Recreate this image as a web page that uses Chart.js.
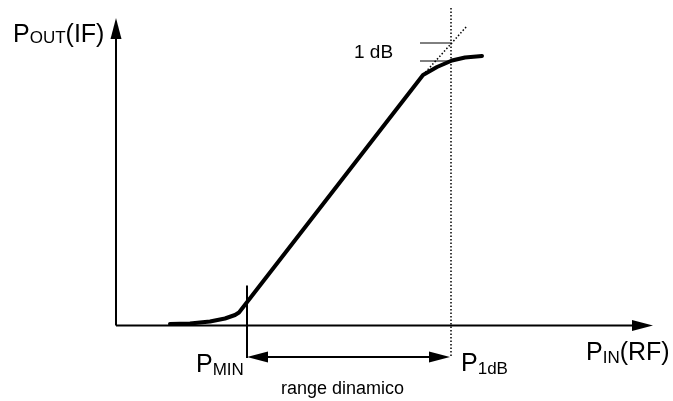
<!DOCTYPE html>
<html>
<head>
<meta charset="utf-8">
<script src="https://cdn.jsdelivr.net/npm/chart.js@4/dist/chart.umd.min.js"></script>
<style>
  html, body { margin: 0; padding: 0; background: #fff; }
  #wrap { width: 673px; height: 401px; position: relative; }
</style>
</head>
<body>
<div id="wrap"><canvas id="myChart"></canvas></div>
<script>
// transfer curve P_OUT(IF) vs P_IN(RF), arbitrary units
const pIn = [5.4, 7.4, 9.4, 10.9, 11.9, 12.3, 30.7, 32.1, 33.6, 34.9, 36.6];
const pOut = [0.15, 0.2, 0.4, 0.7, 1.05, 1.3, 25.05, 25.85, 26.5, 26.8, 26.95];

// linear extrapolation past the compression point
const extraIn = [30.7, 35.1];
const extraOut = [25.05, 29.95];

// markers
const pMin = 13.1;
const p1dB = 33.5;
const level1dB = [28.25, 26.45];

// axis extents
const xAxisEnd = 53.7;
const yAxisEnd = 30.75;

const labels = [
  { main: 'P', sub: 'OUT', tail: '(IF)', x: -10.3, y: 28.35, subDrop: 1 },
  { main: 'P', sub: 'IN', tail: '(RF)', x: 47.0, y: -3.45, subDrop: 3 },
  { main: 'P', sub: 'MIN', tail: '', x: 8.0, y: -4.65, subDrop: 3 },
  { main: 'P', sub: '1dB', tail: '', x: 34.5, y: -4.55, subDrop: 3 },
];
const notes = [
  { text: '1 dB', x: 23.8, y: 26.75, align: 'left', size: 19 },
  { text: 'range dinamico', x: 22.65, y: -6.85, align: 'center', size: 18 },
];

const arrowY = -3.15;

const line = (xs, ys, extra) => Object.assign({
  data: xs.map((x, i) => ({ x, y: ys[i] })),
  borderColor: '#000',
  borderWidth: 2,
  pointRadius: 0,
  showLine: true,
  tension: 0,
  fill: false,
}, extra || {});

const FONT = "'Liberation Sans', Arial, sans-serif";

const annotations = {
  id: 'annotations',
  afterDatasetsDraw(chart) {
    const ctx = chart.ctx;
    const sx = chart.scales.x;
    const sy = chart.scales.y;
    const px = v => sx.getPixelForValue(v);
    const py = v => sy.getPixelForValue(v);

    // arrow heads: tip position + direction
    const heads = [
      { x: 0, y: yAxisEnd, dir: 'up' },
      { x: xAxisEnd, y: 0, dir: 'right' },
      { x: pMin, y: arrowY, dir: 'left' },
      { x: p1dB - 0.1, y: arrowY, dir: 'right' },
    ];
    ctx.save();
    ctx.fillStyle = '#000';
    heads.forEach(h => {
      const tx = px(h.x), ty = py(h.y);
      const len = 21, hw = 5.5;
      ctx.beginPath();
      ctx.moveTo(tx, ty);
      if (h.dir === 'up') { ctx.lineTo(tx - hw, ty + len); ctx.lineTo(tx + hw, ty + len); }
      if (h.dir === 'right') { ctx.lineTo(tx - len, ty - hw); ctx.lineTo(tx - len, ty + hw); }
      if (h.dir === 'left') { ctx.lineTo(tx + len, ty - hw); ctx.lineTo(tx + len, ty + hw); }
      ctx.closePath();
      ctx.fill();
    });

    ctx.textBaseline = 'alphabetic';
    labels.forEach(l => {
      let x = px(l.x);
      const y = py(l.y);
      ctx.textAlign = 'left';
      ctx.font = '25px ' + FONT;
      ctx.fillText(l.main, x, y);
      x += ctx.measureText(l.main).width;
      ctx.font = '17px ' + FONT;
      ctx.fillText(l.sub, x, y + l.subDrop);
      x += ctx.measureText(l.sub).width;
      if (l.tail) {
        ctx.font = '25px ' + FONT;
        ctx.fillText(l.tail, x, y);
      }
    });
    notes.forEach(n => {
      ctx.font = n.size + 'px ' + FONT;
      ctx.textAlign = n.align;
      ctx.fillText(n.text, px(n.x), py(n.y));
    });
    ctx.restore();
  }
};

const ctx = document.getElementById('myChart').getContext('2d');
const chart = new Chart(ctx, {
  type: 'scatter',
  data: {
    datasets: [
      line([0, xAxisEnd - 1], [0, 0]),
      line([0, 0], [0, yAxisEnd - 1]),
      line(extraIn, extraOut, { borderWidth: 1.5, borderDash: [1.5, 2] }),
      line([p1dB, p1dB], [31.75, -3.25], { borderWidth: 1.5, borderDash: [1.5, 2] }),
      line([pMin, pMin], [4.0, -3.25]),
      line([pMin + 1, p1dB - 1], [arrowY, arrowY]),
      line([30.4, p1dB], [level1dB[0], level1dB[0]], { borderWidth: 1 }),
      line([30.4, p1dB], [level1dB[1], level1dB[1]], { borderWidth: 1 }),
      line(pIn, pOut, { borderWidth: 4, borderJoinStyle: 'round', borderCapStyle: 'round' }),
    ],
  },
  options: {
    responsive: true,
    maintainAspectRatio: false,
    animation: false,
    layout: { padding: 0 },
    plugins: { legend: { display: false }, tooltip: { enabled: false } },
    scales: {
      x: { type: 'linear', min: -11.6, max: 55.7, display: false },
      y: { type: 'linear', min: -7.55, max: 32.55, display: false },
    },
  },
  plugins: [annotations],
});
</script>
</body>
</html>
